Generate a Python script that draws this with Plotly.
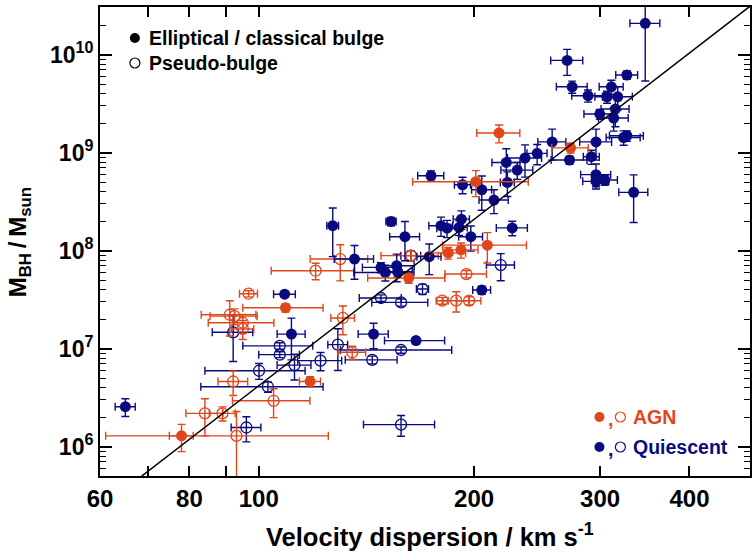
import math
import plotly.graph_objects as go

# ---------------- data ----------------
# AGN, elliptical / classical bulge (filled orange)
agn_cl_sigma = [78.0, 109.0, 118.0, 162.0, 184.0, 191.7, 208.7, 201.1, 216.7, 272.8]
agn_cl_sigma_err = [3, 14, 4, 20, 10.6, 10.8, 28, 37, 15, 16]
agn_cl_mbh = [1.29e6, 2.62e7, 4.63e6, 5.26e7, 9.5e7, 1.02e8, 1.14e8, 5.06e8, 1.59e9, 1.12e9]
agn_cl_mbh_err = [0.4e6, 2.5e6, 0.55e6, 6e6, 1.3e7, 1.8e7, 3.9e7, 1.5e8, 3.3e8, 1.3e8]

# AGN, pseudo-bulge (open orange)
agn_ps_sigma = [96.8, 91.1, 92.5, 95.0, 95.0, 92.1, 84.1, 89.0, 93.1, 104.9,
                131.1, 135.1, 130.0, 120.1, 163.2, 180.5, 188.8, 196.8, 195.1]
agn_ps_sigma_err = [2.8, 8, 7, 10, 3.4, 4.4, 5, 3.7, 32, 13,
                    5, 6, 12, 16, 15, 3.5, 7.9, 7.6, 13]
agn_ps_mbh = [3.64e7, 2.22e7, 2.15e7, 1.84e7, 1.59e7, 4.63e6, 2.19e6, 2.19e6, 1.29e6, 2.94e6,
              2.06e7, 9.2e6, 8.22e7, 6.25e7, 8.9e7, 3.09e7, 3.09e7, 3.09e7, 5.78e7]
agn_ps_mbh_err = [2.6e6, 8.7e6, 4e6, 4e6, 3.5e6, 1.3e6, 0.9e6, 0.36e6, 1.0e6, 0.96e6,
                  6.7e6, 1.4e6, 3.3e7, 1.2e7, 1.1e7, 2.5e6, 7.2e6, 3e6, 5e6]

# Quiescent, elliptical / classical bulge (filled navy)
qui_cl_sigma = [65.1, 108.7, 111.1, 144.7, 165.9, 205.0, 126.9, 153.1, 160.1, 179.8,
                183.3, 136.1, 148.2, 150.3, 155.9, 156.4, 173.1, 174.1, 192.7, 205.0,
                213.2, 222.6, 221.8, 229.8, 235.6, 245.0, 257.1, 192.0, 190.6, 197.9,
                226.1, 346.9, 269.8, 327.0, 274.2, 288.6, 311.1, 306.8, 317.5, 299.7,
                315.1, 313.4, 271.9, 296.1, 291.7, 323.6, 327.0, 296.1, 296.1, 304.5,
                334.2]
qui_cl_sigma_err = [2.1, 3.8, 5, 7, 16, 5.9, 2.4, 2.5, 7.7, 6.9,
                    5.9, 8.6, 8.6, 14.5, 9, 7.5, 6.7, 7.3, 5, 6.6,
                    10, 5, 10, 11.8, 12.9, 7.9, 11.6, 5, 5, 7.6,
                    11.3, 16.7, 13.9, 11.5, 13.6, 14.8, 12, 11.8, 15.3, 14.9,
                    14.2, 15, 15.7, 15.2, 7.5, 17.7, 17.8, 14.3, 12.4, 12.7,
                    15.6]
qui_cl_mbh = [2.56e6, 3.6e7, 1.41e7, 1.41e7, 1.21e7, 3.97e7, 1.80e8, 1.99e8, 1.39e8, 1.80e8,
              1.70e8, 8.22e7, 6.76e7, 6.0e7, 7.03e7, 6.1e7, 8.7e7, 5.82e8, 4.71e8, 4.19e8,
              3.29e8, 4.98e8, 7.96e8, 6.65e8, 8.83e8, 9.85e8, 1.29e9, 2.10e8, 1.73e8, 1.39e8,
              1.71e8, 2.09e10, 8.75e9, 6.21e9, 4.71e9, 3.82e9, 4.71e9, 3.72e9, 3.72e9, 2.48e9,
              2.79e9, 2.26e9, 8.43e8, 1.29e9, 9.1e8, 1.43e9, 1.49e9, 5.97e8, 5.1e8, 5.26e8,
              3.94e8]
qui_cl_mbh_err = [0.53e6, 2.5e6, 6.4e6, 4.1e6, 0.9e6, 3.7e6, 9.3e7, 1.9e7, 6e7, 4e7,
                  3.4e7, 3.1e7, 8e6, 1.1e7, 2.2e7, 7e6, 3e7, 7e7, 9e7, 1.6e8,
                  9e7, 1.4e8, 3.0e8, 1.3e8, 3.2e8, 2.3e8, 4.5e8, 4.5e7, 3e7, 4e7,
                  2.9e7, 1.55e10, 2.6e9, 6e8, 6.7e8, 5.4e8, 7.8e8, 5.2e8, 1.0e9, 2.9e8,
                  9.5e8, 6e8, 8e7, 4.5e8, 1.5e8, 2.4e8, 1.8e8, 1.7e8, 6e7, 6e7,
                  2.0e8]

# Quiescent, pseudo-bulge (open navy)
qui_ps_sigma = [92.1, 107.0, 107.0, 100.1, 103.0, 112.2, 122.0, 144.1, 129.0, 158.1,
                96.1, 158.1, 148.2, 158.1, 169.4, 217.9, 163.2]
qui_ps_sigma_err = [6, 12, 7, 16, 20, 6.1, 8.6, 12, 4.1, 28,
                    4.6, 18, 10, 14.2, 3.3, 9.8, 5.2]
qui_ps_mbh = [1.47e7, 1.07e7, 8.7e6, 5.96e6, 4.09e6, 6.8e6, 7.55e6, 7.7e6, 1.10e7, 9.7e6,
              1.57e6, 1.68e6, 3.29e7, 2.97e7, 4.06e7, 7.14e7, 8.9e7]
qui_ps_mbh_err = [7.3e6, 0.8e6, 0.6e6, 1.1e6, 0.5e6, 2.0e6, 1.6e6, 0.7e6, 5e6, 0.7e6,
                  0.45e6, 0.4e6, 2.5e6, 2.5e6, 5e6, 2.2e7, 1.1e7]

# M-sigma fit: log M = alpha + beta * log(sigma / 200)
fit_alpha = 8.32
fit_beta = 5.64
fit_sigma = [60, 500]

x_tickvals = [60, 70, 80, 90, 100, 200, 300, 400]
x_ticktext = ["60", "", "80", "", "100", "200", "300", "400"]
y_tickvals = [1e6, 1e7, 1e8, 1e9, 1e10]
y_ticktext = ["10<sup>6</sup>", "10<sup>7</sup>", "10<sup>8</sup>", "10<sup>9</sup>", "10<sup>10</sup>"]

ORANGE = "#E0461A"
NAVY = "#0A0A80"
FONT = "Liberation Sans"

W, H = 755, 552
L, R, T, B = 100, 3, 7, 76
PW, PH = W - L - R, H - T - B


def px(x):
    return (x - L) / PW


def py(y):
    return (H - B - y) / PH


fig = go.Figure()


def add_group(sig, sig_err, mbh, mbh_err, color, filled):
    fig.add_trace(go.Scatter(
        x=sig, y=mbh, mode="markers", showlegend=False, hoverinfo="x+y",
        marker=dict(symbol="circle" if filled else "circle-open", size=11,
                    color=color, line=dict(width=0 if filled else 1.3, color=color)),
        error_x=dict(type="data", array=sig_err, color=color, thickness=1.4, width=4),
        error_y=dict(type="data", array=mbh_err, color=color, thickness=1.4, width=4),
    ))


add_group(qui_ps_sigma, qui_ps_sigma_err, qui_ps_mbh, qui_ps_mbh_err, NAVY, False)
add_group(agn_ps_sigma, agn_ps_sigma_err, agn_ps_mbh, agn_ps_mbh_err, ORANGE, False)
add_group(qui_cl_sigma, qui_cl_sigma_err, qui_cl_mbh, qui_cl_mbh_err, NAVY, True)
add_group(agn_cl_sigma, agn_cl_sigma_err, agn_cl_mbh, agn_cl_mbh_err, ORANGE, True)

fit_mbh = [10 ** (fit_alpha + fit_beta * math.log10(s / 200.0)) for s in fit_sigma]
fig.add_trace(go.Scatter(x=fit_sigma, y=fit_mbh, mode="lines", showlegend=False,
                         line=dict(color="black", width=1.5), hoverinfo="skip"))

minor_y = [k * 10 ** d for d in range(5, 11) for k in range(2, 10)]

axis_common = dict(showline=True, linecolor="black", linewidth=2, mirror="ticks",
                   ticks="inside", tickcolor="black", tickwidth=1.5,
                   showgrid=False, zeroline=False)

fig.update_layout(
    width=W, height=H, margin=dict(l=L, r=R, t=T, b=B),
    paper_bgcolor="white", plot_bgcolor="white",
    xaxis=dict(type="log", range=[math.log10(60), math.log10(486)],
               tickmode="array", tickvals=x_tickvals, ticktext=x_ticktext, ticklen=10,
               tickfont=dict(family=FONT, size=24, color="black", weight="bold"),
               **axis_common),
    yaxis=dict(type="log", range=[5.701, 10.487],
               tickmode="array", tickvals=y_tickvals, ticktext=y_ticktext, ticklen=12,
               tickfont=dict(family=FONT, size=23, color="black", weight="bold"),
               minor=dict(tickmode="array", tickvals=minor_y, ticks="inside", ticklen=6,
                          tickcolor="black", tickwidth=1.2),
               **axis_common),
)

ann = []
# axis titles
ann.append(dict(text="Velocity dispersion / km s<sup>-1</sup>", x=px(431), y=py(535),
                xref="paper", yref="paper", xanchor="center", yanchor="middle", showarrow=False,
                font=dict(family=FONT, size=25.5, color="black", weight="bold")))
ann.append(dict(text="M<sub>BH</sub>\u2009/\u2009M<sub>sun</sub>", x=px(19), y=py(242), textangle=-90,
                xref="paper", yref="paper", xanchor="center", yanchor="middle", showarrow=False,
                font=dict(family=FONT, size=24, color="black", weight="bold")))
# legends
legfont = dict(family=FONT, size=19.5, weight="bold")
ann.append(dict(text="Elliptical / classical bulge", x=px(147), y=py(38), xref="paper", yref="paper",
                xanchor="left", yanchor="middle", showarrow=False, font=dict(color="black", **legfont)))
ann.append(dict(text="Pseudo-bulge", x=px(147), y=py(63), xref="paper", yref="paper",
                xanchor="left", yanchor="middle", showarrow=False, font=dict(color="black", **legfont)))
ann.append(dict(text="AGN", x=px(633), y=py(417), xref="paper", yref="paper",
                xanchor="left", yanchor="middle", showarrow=False, font=dict(color=ORANGE, **legfont)))
ann.append(dict(text="Quiescent", x=px(633), y=py(447), xref="paper", yref="paper",
                xanchor="left", yanchor="middle", showarrow=False, font=dict(color=NAVY, **legfont)))
for yy, col in [(417, ORANGE), (447, NAVY)]:
    ann.append(dict(text=",", x=px(612), y=py(yy + 2), xref="paper", yref="paper",
                    xanchor="center", yanchor="middle", showarrow=False, font=dict(color=col, **legfont)))

shapes = []


def circ(cx, cy, col, filled, r=5):
    shapes.append(dict(type="circle", xref="paper", yref="paper", xsizemode="pixel", ysizemode="pixel",
                       xanchor=px(cx), yanchor=py(cy), x0=-r, x1=r, y0=-r, y1=r,
                       line=dict(color=col, width=0 if filled else 1.2),
                       fillcolor=col if filled else "rgba(0,0,0,0)"))


circ(135, 38, "black", True)
circ(135, 63, "black", False)
circ(601, 417, ORANGE, True)
circ(622, 417, ORANGE, False)
circ(601, 447, NAVY, True)
circ(622, 447, NAVY, False)

fig.update_layout(annotations=ann, shapes=shapes)
fig.write_html("out.html", config={"displayModeBar": False},
               post_script="document.body.style.margin='0px';document.body.style.overflow='hidden';")
